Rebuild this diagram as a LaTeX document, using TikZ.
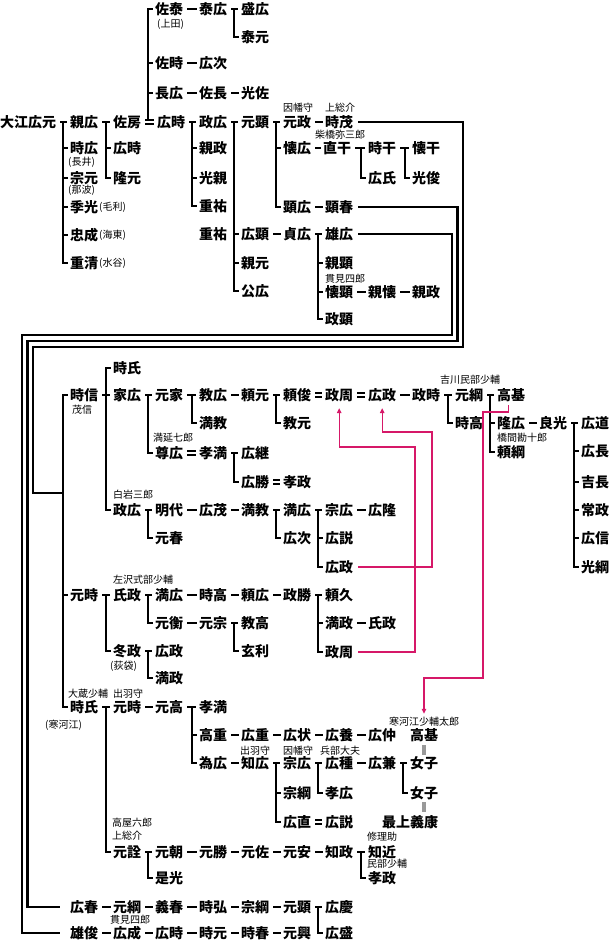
\documentclass[tikz,border=0pt]{standalone}
\usepackage{fontspec}
\setmainfont{Noto Sans CJK JP}
\usetikzlibrary{arrows.meta}
\definecolor{pinkline}{RGB}{214,24,104}
\newcommand\dashto[2]{\draw[ln] ([xshift=4pt]#1.east) -- ([xshift=-2pt]#2.west);}
\newcommand\eqto[2]{\draw[eqln] ([xshift=4pt,yshift=2pt]#1.east) -- ([xshift=-3pt,yshift=2pt]#2.west);\draw[eqln] ([xshift=4pt,yshift=-2pt]#1.east) -- ([xshift=-3pt,yshift=-2pt]#2.west);}
\newcommand\famT[3]{\draw[ln] ([xshift=4pt]#1.east) -- ([xshift=-3pt]#2.west);\foreach \c in {#3}{\draw[ln] ([xshift=-7pt]#2.west) |- ([xshift=-2pt]\c.west);}}
\begin{document}
\begin{tikzpicture}[x=1pt,y=-1pt,
 nm/.style={anchor=west,inner sep=0pt,font=\fontsize{14}{14}\selectfont\bfseries,text height=12.3pt,text depth=1.7pt},
 sm/.style={anchor=west,inner sep=0pt,font=\fontsize{10}{10}\selectfont,text height=8.8pt,text depth=1.2pt},
 ln/.style={line width=2.5pt},
 eqln/.style={line width=1.3pt},
 mg/.style={draw=pinkline,line width=1.2pt,-{Triangle[length=5pt,width=4.5pt]}},
 gbar/.style={draw=gray!80,line width=4pt}]
\useasboundingbox (0,0) rectangle (609,941);
% ---------- top section ----------
\node[nm] (n0) at (0,122) {大江広元};
\node[nm] (b1) at (70,122) {親広};
\node[nm] (b2) at (70,148) {時広};
\node[nm] (b3) at (70,178) {宗元};
\node[nm] (b4) at (70,207) {季光};
\node[nm] (b5) at (70,235) {忠成};
\node[nm] (b6) at (70,263) {重清};
\node[sm] (sb2) at (68,162) {(長井)};
\node[sm] (sb3) at (68,190) {(那波)};
\node[sm] (sb4) at (99,207) {(毛利)};
\node[sm] (sb5) at (99,235) {(海東)};
\node[sm] (sb6) at (99,263) {(水谷)};
\node[nm] (c1) at (113,122) {佐房};
\node[nm] (c2) at (113,148) {広時};
\node[nm] (c3) at (113,178) {隆元};
\node[nm] (d1) at (155,9) {佐泰};
\node[sm] (sd1) at (157,24) {(上田)};
\node[nm] (d2) at (155,63) {佐時};
\node[nm] (d3) at (155,93) {長広};
\node[nm] (d4) at (157,122) {広時};
\node[nm] (e1) at (199,9) {泰広};
\node[nm] (e2) at (199,63) {広次};
\node[nm] (e3) at (199,93) {佐長};
\node[nm] (e4) at (199,122) {政広};
\node[nm] (e5) at (199,148) {親政};
\node[nm] (e6) at (199,178) {光親};
\node[nm] (e7) at (199,206) {重祐};
\node[nm] (e8) at (199,234) {重祐};
\node[nm] (f1) at (241,9) {盛広};
\node[nm] (f2) at (241,37) {泰元};
\node[nm] (f3) at (241,93) {光佐};
\node[nm] (f4) at (241,122) {元顕};
\node[nm] (f5) at (241,234) {広顕};
\node[nm] (f6) at (241,263) {親元};
\node[nm] (f7) at (241,291) {公広};
\node[nm] (g1) at (283,122) {元政};
\node[nm] (g2) at (283,148) {懐広};
\node[nm] (g3) at (283,207) {顕広};
\node[nm] (g4) at (283,234) {貞広};
\node[nm] (h1) at (325,122) {時茂};
\node[nm] (h2) at (323,148) {直干};
\node[nm] (h3) at (325,207) {顕春};
\node[nm] (h4) at (325,234) {雄広};
\node[nm] (h5) at (325,263) {親顕};
\node[nm] (h6) at (325,292) {懐顕};
\node[nm] (h7) at (325,319) {政顕};
\node[nm] (i1) at (368,148) {時干};
\node[nm] (i2) at (368,178) {広氏};
\node[nm] (i3) at (368,292) {親懐};
\node[nm] (j1) at (412,148) {懐干};
\node[nm] (j2) at (412,178) {光俊};
\node[nm] (j3) at (412,292) {親政};
\node[sm] (ag1) at (283,108) {因幡守};
\node[sm] (ah1) at (325,108) {上総介};
\node[sm] (ah2) at (315,135) {柴橋弥三郎};
\node[sm] (ah6) at (325,279) {貫見四郎};
% ---------- lower section ----------
\node[nm] (B1) at (70,395) {時信};
\node[sm] (sB1) at (72,410) {茂信};
\node[nm] (B2) at (70,595) {元時};
\node[nm] (B3) at (70,707) {時氏};
\node[nm] (B4) at (70,907) {広春};
\node[nm] (B5) at (70,933) {雄俊};
\node[sm] (aB3) at (68,694) {大蔵少輔};
\node[sm] (sB3) at (45,725) {(寒河江)};
\node[nm] (C1) at (113,368) {時氏};
\node[nm] (C2) at (113,395) {家広};
\node[nm] (C3) at (113,510) {政広};
\node[nm] (C4) at (113,595) {氏政};
\node[nm] (C5) at (113,651) {冬政};
\node[nm] (C6) at (113,707) {元時};
\node[nm] (C7) at (113,852) {元詮};
\node[nm] (C8) at (113,907) {元綱};
\node[nm] (C9) at (113,933) {広成};
\node[sm] (aC3) at (113,495) {白岩三郎};
\node[sm] (aC4) at (113,580) {左沢式部少輔};
\node[sm] (sC5) at (110,666) {(荻袋)};
\node[sm] (aC6) at (113,694) {出羽守};
\node[sm] (aC7a) at (112,823) {高屋六郎};
\node[sm] (aC7b) at (112,836) {上総介};
\node[sm] (aC9) at (110,920) {貫見四郎};
\node[nm] (D1) at (155,395) {元家};
\node[nm] (D2) at (155,453) {尊広};
\node[nm] (D3) at (155,510) {明代};
\node[nm] (D4) at (155,538) {元春};
\node[nm] (D5) at (155,595) {満広};
\node[nm] (D6) at (155,623) {元衡};
\node[nm] (D7) at (155,651) {広政};
\node[nm] (D8) at (155,678) {満政};
\node[nm] (D9) at (155,707) {元高};
\node[nm] (D10) at (155,852) {元朝};
\node[nm] (D11) at (155,878) {是光};
\node[nm] (D12) at (155,907) {義春};
\node[nm] (D13) at (155,933) {広時};
\node[sm] (aD2) at (153,438) {満延七郎};
\node[nm] (E1) at (199,395) {教広};
\node[nm] (E2) at (199,423) {満教};
\node[nm] (E3) at (199,453) {孝満};
\node[nm] (E4) at (199,510) {広茂};
\node[nm] (E5) at (199,595) {時高};
\node[nm] (E6) at (199,623) {元宗};
\node[nm] (E7) at (199,707) {孝満};
\node[nm] (E8) at (199,735) {高重};
\node[nm] (E9) at (199,763) {為広};
\node[nm] (E10) at (199,852) {元勝};
\node[nm] (E11) at (199,907) {時弘};
\node[nm] (E12) at (199,933) {時元};
\node[nm] (F1) at (241,395) {頼元};
\node[nm] (F2) at (241,453) {広継};
\node[nm] (F3) at (241,482) {広勝};
\node[nm] (F4) at (241,510) {満教};
\node[nm] (F5) at (241,595) {頼広};
\node[nm] (F6) at (241,623) {教高};
\node[nm] (F7) at (241,651) {玄利};
\node[nm] (F8) at (241,735) {広重};
\node[nm] (F9) at (241,763) {知広};
\node[nm] (F10) at (241,852) {元佐};
\node[nm] (F11) at (241,907) {宗綱};
\node[nm] (F12) at (241,933) {時春};
\node[sm] (aF9) at (240,751) {出羽守};
\node[nm] (G1) at (283,395) {頼俊};
\node[nm] (G2) at (283,423) {教元};
\node[nm] (G3) at (283,482) {孝政};
\node[nm] (G4) at (283,510) {満広};
\node[nm] (G5) at (283,538) {広次};
\node[nm] (G6) at (283,595) {政勝};
\node[nm] (G7) at (283,735) {広状};
\node[nm] (G8) at (283,763) {宗広};
\node[nm] (G9) at (283,793) {宗綱};
\node[nm] (G10) at (283,822) {広直};
\node[nm] (G11) at (283,852) {元安};
\node[nm] (G12) at (283,907) {元顕};
\node[nm] (G13) at (283,933) {元興};
\node[sm] (aG8) at (283,751) {因幡守};
\node[nm] (H1) at (325,395) {政周};
\node[nm] (H2) at (325,510) {宗広};
\node[nm] (H3) at (325,538) {広説};
\node[nm] (H4) at (325,567) {広政};
\node[nm] (H5) at (325,595) {頼久};
\node[nm] (H6) at (325,623) {満政};
\node[nm] (H7) at (325,652) {政周};
\node[nm] (H8) at (325,735) {広養};
\node[nm] (H9) at (325,763) {広種};
\node[nm] (H10) at (325,793) {孝広};
\node[nm] (H11) at (325,822) {広説};
\node[nm] (H12) at (325,852) {知政};
\node[nm] (H13) at (325,907) {広慶};
\node[nm] (H14) at (325,933) {広盛};
\node[sm] (aH9) at (320,751) {兵部大夫};
\node[nm] (I1) at (368,395) {広政};
\node[nm] (I2) at (368,510) {広隆};
\node[nm] (I3) at (368,623) {氏政};
\node[nm] (I4) at (368,735) {広仲};
\node[nm] (I5) at (368,763) {広兼};
\node[nm] (I6) at (368,852) {知近};
\node[nm] (I7) at (368,878) {孝政};
\node[sm] (aI6) at (367,837) {修理助};
\node[sm] (aI7) at (367,864) {民部少輔};
\node[nm] (J1) at (412,395) {政時};
\node[nm] (J2) at (410,735) {高基};
\node[nm] (J3) at (410,763) {女子};
\node[nm] (J4) at (410,793) {女子};
\node[nm] (J5) at (382,822) {最上義康};
\node[sm,anchor=center] (aJ2) at (424,722) {寒河江少輔太郎};
\node[nm] (K1) at (455,395) {元綱};
\node[nm] (K2) at (455,423) {時高};
\node[sm] (aK1) at (440,380) {吉川民部少輔};
\node[nm] (L1) at (497,395) {高基};
\node[nm] (L2) at (497,423) {隆広};
\node[nm] (L3) at (497,452) {頼綱};
\node[sm] (aL3) at (497,438) {橋間勘十郎};
\node[nm] (M1) at (539,423) {良光};
\node[nm] (N1) at (581,423) {広道};
\node[nm] (N2) at (581,451) {広長};
\node[nm] (N3) at (581,482) {吉長};
\node[nm] (N4) at (581,510) {常政};
\node[nm] (N5) at (581,538) {広信};
\node[nm] (N6) at (581,567) {光綱};
% ---------- connectors: top ----------
\famT{n0}{b1}{b2,b3,b4,b5,b6}
\famT{b1}{c1}{c2,c3}
\eqto{c1}{d4}
\coordinate (eqtop) at ([xshift=-7pt,yshift=2pt]d1.west |- c1.east);
\foreach \c in {d1,d2,d3}{\draw[ln] (eqtop) |- ([xshift=-2pt]\c.west);}
\dashto{d1}{e1}
\famT{e1}{f1}{f2}
\dashto{d2}{e2}
\dashto{d3}{e3}
\dashto{e3}{f3}
\famT{d4}{e4}{e5,e6,e7}
\famT{e4}{f4}{f5,f6,f7}
\famT{f4}{g1}{g2,g3}
\dashto{g1}{h1}
\dashto{g2}{h2}
\famT{h2}{i1}{i2}
\famT{i1}{j1}{j2}
\dashto{g3}{h3}
\dashto{f5}{g4}
\famT{g4}{h4}{h5,h6,h7}
\dashto{h6}{i3}
\dashto{i3}{j3}
% ---------- long lines ----------
\coordinate (k1) at (463,347);
\coordinate (k1b) at (33,493);
\coordinate (v62) at (63,493);
\draw[ln] ([xshift=5pt]h1.east) -| (k1) -| (k1b) -- (v62);
\foreach \c in {B1,B2,B3}{\draw[ln] (v62) |- ([xshift=-2pt]\c.west);}
\coordinate (k2) at (457.5,341);
\coordinate (k2b) at (27.5,907);
\draw[ln] ([xshift=5pt]h3.east) -| (k2) -| (k2b) -- ([xshift=-10pt]B4.west);
\coordinate (k3) at (452,335);
\coordinate (k3b) at (22,933);
\draw[ln] ([xshift=5pt]h4.east) -| (k3) -| (k3b) -- ([xshift=-10pt]B5.west);
% ---------- connectors: lower ----------
\famT{B1}{C2}{C1,C3}
\famT{C2}{D1}{D2}
\famT{D1}{E1}{E2}
\dashto{E1}{F1}
\famT{F1}{G1}{G2}
\eqto{G1}{H1}
\eqto{H1}{I1}
\dashto{I1}{J1}
\famT{J1}{K1}{K2}
\famT{K1}{L1}{L2,L3}
\dashto{L2}{M1}
\famT{M1}{N1}{N2,N3,N4,N5,N6}
\eqto{D2}{E3}
\famT{E3}{F2}{F3}
\eqto{F3}{G3}
\famT{C3}{D3}{D4}
\dashto{D3}{E4}
\dashto{E4}{F4}
\famT{F4}{G4}{G5}
\famT{G4}{H2}{H3,H4}
\dashto{H2}{I2}
\famT{B2}{C4}{C5}
\famT{C4}{D5}{D6}
\dashto{D5}{E5}
\dashto{E5}{F5}
\dashto{F5}{G6}
\famT{G6}{H5}{H6,H7}
\dashto{H6}{I3}
\dashto{D6}{E6}
\famT{E6}{F6}{F7}
\famT{C5}{D7}{D8}
\famT{B3}{C6}{C7}
\dashto{C6}{D9}
\famT{D9}{E7}{E8,E9}
\dashto{E8}{F8}
\dashto{F8}{G7}
\dashto{G7}{H8}
\dashto{H8}{I4}
\dashto{E9}{F9}
\famT{F9}{G8}{G9,G10}
\famT{G8}{H9}{H10}
\dashto{H9}{I5}
\famT{I5}{J3}{J4}
\eqto{G10}{H11}
\famT{C7}{D10}{D11}
\dashto{D10}{E10}
\dashto{E10}{F10}
\dashto{F10}{G11}
\dashto{G11}{H12}
\famT{H12}{I6}{I7}
\dashto{B4}{C8}
\dashto{C8}{D12}
\dashto{D12}{E11}
\dashto{E11}{F11}
\dashto{F11}{G12}
\famT{G12}{H13}{H14}
\dashto{B5}{C9}
\dashto{C9}{D13}
\dashto{D13}{E12}
\dashto{E12}{F12}
\dashto{F12}{G13}
% gray bars
\draw[gbar] ([yshift=-3pt]J2.south) -- ([yshift=1pt]J3.north);
\draw[gbar] ([yshift=-2pt]J4.south) -- ([yshift=3pt]J4.south |- J5.north);
% magenta arrows
\coordinate (mA) at (432,432);
\draw[mg] ([xshift=5pt]H4.east) -| (mA) -| ([yshift=-6pt]I1.south);
\coordinate (mB) at (415,447);
\draw[mg] ([xshift=5pt]H7.east) -| (mB) -| ([yshift=-6pt]H1.south);
\coordinate (mC) at (483,412);
\coordinate (mD) at (424,678);
\draw[mg] ([xshift=-3pt,yshift=-3pt]L1.south) |- (mC) |- (mD) -- ([yshift=3pt]aJ2.north);
\end{tikzpicture}
\end{document}
